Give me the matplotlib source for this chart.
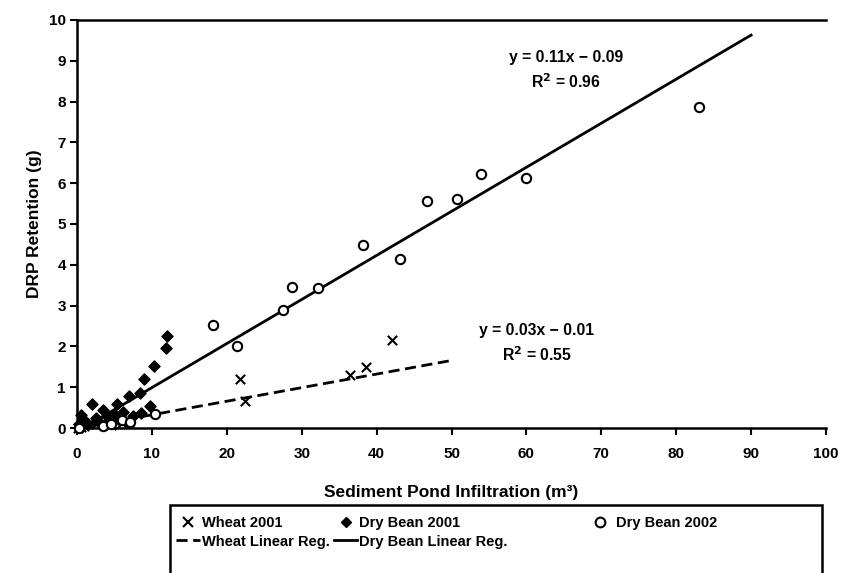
import matplotlib
matplotlib.use('Agg')
import matplotlib.pyplot as plt
from matplotlib.lines import Line2D
from matplotlib.patches import Rectangle
import numpy as np

plt.rcParams['font.family'] = ['Liberation Sans', 'DejaVu Sans']
plt.rcParams['font.weight'] = 'bold'

# Wheat 2001
wheat_x = [0.2, 0.5, 1.0, 2.5, 3.5, 4.5, 5.0, 6.0, 7.0, 21.8, 22.4, 36.4, 38.6, 42.1]
wheat_y = [0.0, 0.02, 0.05, 0.10, 0.15, 0.08, 0.20, 0.12, 0.15, 1.19, 0.67, 1.30, 1.49, 2.16]

# Dry Bean 2001
bean01_x = [0.3, 0.6, 1.0, 1.5, 2.0, 2.5, 3.0, 3.5, 4.0, 4.5, 5.0, 5.3, 5.8, 6.2,
            6.9, 7.5, 8.4, 8.6, 8.9, 9.7, 10.3, 11.9, 12.0]
bean01_y = [0.10, 0.32, 0.20, 0.10, 0.60, 0.25, 0.15, 0.44, 0.30, 0.20, 0.35, 0.59, 0.25, 0.40,
            0.79, 0.30, 0.87, 0.36, 1.20, 0.55, 1.53, 1.97, 2.25]

# Dry Bean 2002
bean02_x = [0.3, 3.5, 4.5, 6.0, 7.1, 10.4, 18.1, 21.3, 27.5, 28.7, 32.2, 38.2, 43.1,
            46.7, 50.8, 54.0, 60.0, 83.0]
bean02_y = [0.0, 0.05, 0.10, 0.20, 0.15, 0.34, 2.52, 2.01, 2.89, 3.46, 3.44, 4.49, 4.13,
            5.56, 5.61, 6.22, 6.12, 7.87]

# regression lines (slope, intercept, x range)
wheat_fit = (0.0333, -0.01, [0, 50])
bean_fit = (0.108, -0.09, [0, 90])

x_ticks = list(range(0, 101, 10))
y_ticks = list(range(0, 11))

fig = plt.figure(figsize=(8.41, 5.73), dpi=100)
ax = fig.add_axes([77 / 841, 1 - 428 / 573, (826 - 77) / 841, (428 - 20) / 573])

fx = np.array(wheat_fit[2])
ax.plot(fx, wheat_fit[0] * fx + wheat_fit[1], color='black', lw=2, dashes=(4, 2), zorder=3)
bx = np.array(bean_fit[2])
ax.plot(bx, bean_fit[0] * bx + bean_fit[1], color='black', lw=2, zorder=3)

ax.scatter(wheat_x, wheat_y, marker='x', s=45, color='black', linewidths=1.5, zorder=4, clip_on=False)
ax.scatter(bean01_x, bean01_y, marker='D', s=32, color='black', zorder=4, clip_on=False)
ax.scatter(bean02_x, bean02_y, marker='o', s=45, facecolors='white', edgecolors='black',
           linewidths=1.5, zorder=5, clip_on=False)

eq_style = dict(ha='center', va='center', fontsize=11.3, fontweight='bold')
ax.text(65.3, 9.07, 'y = 0.11x \u2212 0.09', **eq_style)
ax.text(65.3, 8.48, 'R$^\\mathbf{2}$ = 0.96', **eq_style)
ax.text(61.4, 2.40, 'y = 0.03x \u2212 0.01', **eq_style)
ax.text(61.4, 1.81, 'R$^\\mathbf{2}$ = 0.55', **eq_style)

ax.set_xlim(0, 100)
ax.set_ylim(0, 10)
ax.set_xticks(x_ticks)
ax.set_yticks(y_ticks)
ax.tick_params(direction='out', length=5, width=1.5, labelsize=11, pad=3)
for lab in ax.get_xticklabels() + ax.get_yticklabels():
    lab.set_fontweight('bold')
ax.tick_params(axis='x', pad=9)
for s in ax.spines.values():
    s.set_linewidth(1.8)
ax.spines['right'].set_visible(False)

ax.set_xlabel('Sediment Pond Infiltration (m\u00b3)', fontsize=12.5, fontweight='bold', labelpad=17)
ax.set_ylabel('DRP Retention (g)', fontsize=12.5, fontweight='bold', labelpad=5)

# legend box
fig.patches.append(Rectangle((170 / 841, -0.05), (822 - 170) / 841, 0.05 + (573 - 505) / 573,
                             transform=fig.transFigure, fill=False, edgecolor='black', lw=1.8))

h_wheat = Line2D([], [], ls='none', marker='x', color='black', ms=7, mew=1.5)
h_wreg = Line2D([], [], color='black', lw=2, dashes=(4, 2))
h_b01 = Line2D([], [], ls='none', marker='D', color='black', ms=5)
h_breg = Line2D([], [], color='black', lw=2)
h_b02 = Line2D([], [], ls='none', marker='o', mfc='white', mec='black', ms=7, mew=1.5)

leg_font = {'weight': 'bold', 'size': 10.5}
leg1 = fig.legend([h_wheat, h_wreg, h_b01, h_breg],
                  ['Wheat 2001', 'Wheat Linear Reg.', 'Dry Bean 2001', 'Dry Bean Linear Reg.'],
                  ncol=2, loc='upper left', bbox_to_anchor=(166 / 841, 1 - 506 / 573),
                  frameon=False, prop=leg_font, handlelength=1.6,
                  handletextpad=0.15, columnspacing=0.3, labelspacing=0.3, borderpad=0.2)
leg2 = fig.legend([h_b02], ['Dry Bean 2002'], loc='upper left',
                  bbox_to_anchor=(578 / 841, 1 - 506 / 573), frameon=False,
                  prop=leg_font, handlelength=1.6,
                  handletextpad=0.3, borderpad=0.2)

fig.savefig('out.png', dpi=100)
